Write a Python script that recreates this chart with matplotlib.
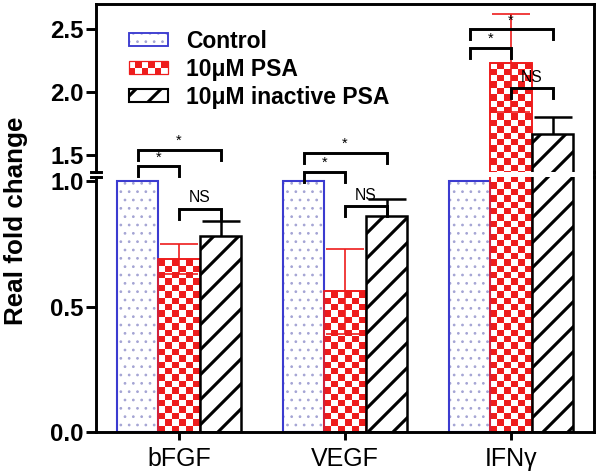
import numpy as np
import matplotlib
matplotlib.use("Agg")
import matplotlib.pyplot as plt
from matplotlib.collections import PatchCollection
from matplotlib.lines import Line2D
from matplotlib.patches import Rectangle, Patch
from matplotlib.legend_handler import HandlerBase

groups = ["bFGF", "VEGF", "IFNγ"]
series = ["Control", "10μM PSA", "10μM inactive PSA"]
control = [1.0, 1.0, 1.0]
psa = [0.69, 0.56, 2.23]
psa_err = [0.06, 0.17, 0.39]
inactive = [0.78, 0.86, 1.67]
inactive_err = [0.06, 0.07, 0.13]

# significance brackets: group, first bar, second bar, height, label
br_group = [0, 0, 0, 1, 1, 1, 2, 2, 2]
br_a = [0, 0, 1, 0, 0, 1, 0, 0, 1]
br_b = [1, 2, 2, 1, 2, 2, 1, 2, 2]
br_y = [1.41, 1.54, 0.89, 1.37, 1.52, 0.90, 2.35, 2.50, 2.03]
br_label = ["*", "*", "NS", "*", "*", "NS", "*", "*", "NS"]

RED = "#ee1c1c"
BLUE = "#3b3bd0"
DOT = "#a4a4d4"
LO = (0, 1.016)
HI = (1.366, 2.70)

plt.rcParams["font.family"] = ["Liberation Sans", "DejaVu Sans"]
plt.rcParams["hatch.linewidth"] = 1.5

fig = plt.figure(figsize=(4, 3.16), dpi=150)
ax_lo = fig.add_axes([0.16, 0.0886, 0.83, 0.538])
ax_hi = fig.add_axes([0.16, 0.6371, 0.83, 0.354])

x = np.arange(len(groups))
w = 0.25


def px_per_unit(ax):
    (x0, y0), (x1, y1) = ax.transData.transform([(0, 0), (1, 1)])
    return x1 - x0, y1 - y0


def checker(ax, bars, px=6.4):
    # red squares of a checkerboard inside each bar
    ux, uy = px_per_unit(ax)
    sy = px / uy
    rects = []
    for b in bars:
        bx, by, bw, bh = b.get_x(), b.get_y(), b.get_width(), b.get_height()
        nx = max(1, int(round(bw * ux / px)))
        sx = bw / nx
        ny = int(np.ceil(bh / sy))
        for j in range(ny):
            y0 = by + j * sy
            h = min(sy, by + bh - y0)
            for i in range(j % 2, nx, 2):
                rects.append(Rectangle((bx + i * sx, y0), sx, h))
    ax.add_collection(PatchCollection(rects, facecolor=RED, edgecolor="none", zorder=1.5))


for ax, lim in ((ax_lo, LO), (ax_hi, HI)):
    ax.set_xlim(-0.5, 2.5)
    ax.set_ylim(*lim)
    with plt.rc_context({"hatch.linewidth": 0.5}):
        ax.bar(x - w, control, w, color="white", edgecolor=DOT, linewidth=0, hatch="...", zorder=1)
    ax.bar(x - w, control, w, fill=False, edgecolor=BLUE, linewidth=1.0, zorder=2)
    psa_bars = ax.bar(x, psa, w, color="white", edgecolor=RED, linewidth=0.8, zorder=1)
    ax.bar(x, psa, w, fill=False, edgecolor=RED, linewidth=0.8, zorder=2)
    ax.bar(x + w, inactive, w, color="white", edgecolor="black", linewidth=1.2, hatch="//", zorder=2)
    ax.errorbar(x, psa, yerr=psa_err, fmt="none", ecolor=RED, elinewidth=0.8,
                capsize=9, capthick=0.8, zorder=3)
    ax.errorbar(x + w, inactive, yerr=inactive_err, fmt="none", ecolor="black", elinewidth=1.2,
                capsize=9, capthick=1.2, zorder=1.8)
    checker(ax, psa_bars)
    ax.set_xlim(-0.5, 2.5)
    ax.set_ylim(*lim)
    for s in ax.spines.values():
        s.set_linewidth(1.4)
    ax.tick_params(axis="y", length=5, width=1.4, pad=1)

ax_lo.spines["top"].set_visible(False)
ax_hi.spines["bottom"].set_visible(False)
ax_hi.tick_params(axis="x", bottom=False, labelbottom=False)
ax_lo.set_xticks(x, labels=groups, fontsize=12)
ax_lo.tick_params(axis="x", length=4, width=1.4, pad=3)
for ax, ticks in ((ax_lo, [0, 0.5, 1.0]), (ax_hi, [1.5, 2.0, 2.5])):
    ax.set_yticks(ticks, labels=[f"{t:.1f}" for t in ticks], fontsize=11.5, fontweight="bold")

# break marks on the left spine, joined right spine
ax_lo.plot([-0.01, 0.01], [1, 1], transform=ax_lo.transAxes, color="black", lw=1.4, clip_on=False)
ax_hi.plot([-0.01, 0.01], [0, 0], transform=ax_hi.transAxes, color="black", lw=1.4, clip_on=False)
fig.add_artist(Line2D([0.99, 0.99], [0.6266, 0.6371], transform=fig.transFigure, color="black", lw=1.4))

# significance brackets
for g, a, b, y, lab in zip(br_group, br_a, br_b, br_y, br_label):
    ax = ax_hi if y > LO[1] else ax_lo
    leg = 10 / px_per_unit(ax)[1]
    xa = x[g] + (a - 1) * w
    xb = x[g] + (b - 1) * w
    ax.plot([xa, xa, xb, xb], [y - leg, y, y, y - leg], color="black", lw=1.4,
            clip_on=False, zorder=4, solid_joinstyle="miter")
    if lab == "*":
        ax.annotate(lab, ((xa + xb) / 2, y), xytext=(0, 1), textcoords="offset points",
                    ha="center", va="bottom", fontsize=7, annotation_clip=False)
    else:
        ax.annotate(lab, ((xa + xb) / 2, y), xytext=(0, 1.5), textcoords="offset points",
                    ha="center", va="bottom", fontsize=7.5, annotation_clip=False)

fig.text(0.027, 0.534, "Real fold change", rotation=90, ha="center", va="center",
         fontsize=12.5, fontweight="bold")


class HandlerChecker(HandlerBase):
    def create_artists(self, legend, orig_handle, xdescent, ydescent, width, height, fontsize, trans):
        arts = []
        nx, ny = 6, 2
        cw, ch = width / nx, height / ny
        for i in range(nx):
            for j in range(ny):
                c = RED if (i + j) % 2 == 0 else "white"
                arts.append(Rectangle((-xdescent + i * cw, -ydescent + j * ch), cw, ch,
                                      facecolor=c, edgecolor="none", transform=trans))
        arts.append(Rectangle((-xdescent, -ydescent), width, height, fill=False,
                              edgecolor=RED, lw=0.6, transform=trans))
        return arts


class HandlerDots(HandlerBase):
    def create_artists(self, legend, orig_handle, xdescent, ydescent, width, height, fontsize, trans):
        with plt.rc_context({"hatch.linewidth": 0.5}):
            dots = Rectangle((-xdescent, -ydescent), width, height, facecolor="white",
                             edgecolor=DOT, lw=0, hatch="...", transform=trans)
        edge = Rectangle((-xdescent, -ydescent), width, height, fill=False,
                         edgecolor=BLUE, lw=0.9, transform=trans)
        return [dots, edge]


h_ctrl = Patch(facecolor="white", edgecolor=BLUE)
h_psa = Patch(facecolor=RED)
h_inact = Patch(facecolor="white", edgecolor="black", hatch="//", lw=1)
fig.legend([h_ctrl, h_psa, h_inact], series,
           handler_map={h_psa: HandlerChecker(), h_ctrl: HandlerDots()},
           loc="upper left", bbox_to_anchor=(129 / 600, 1 - 30 / 474), frameon=False,
           borderpad=0, borderaxespad=0, handlelength=1.7, handleheight=0.5,
           handletextpad=0.8, labelspacing=0.22, prop={"weight": "bold", "size": 11})

fig.savefig("out.png", dpi=150)
